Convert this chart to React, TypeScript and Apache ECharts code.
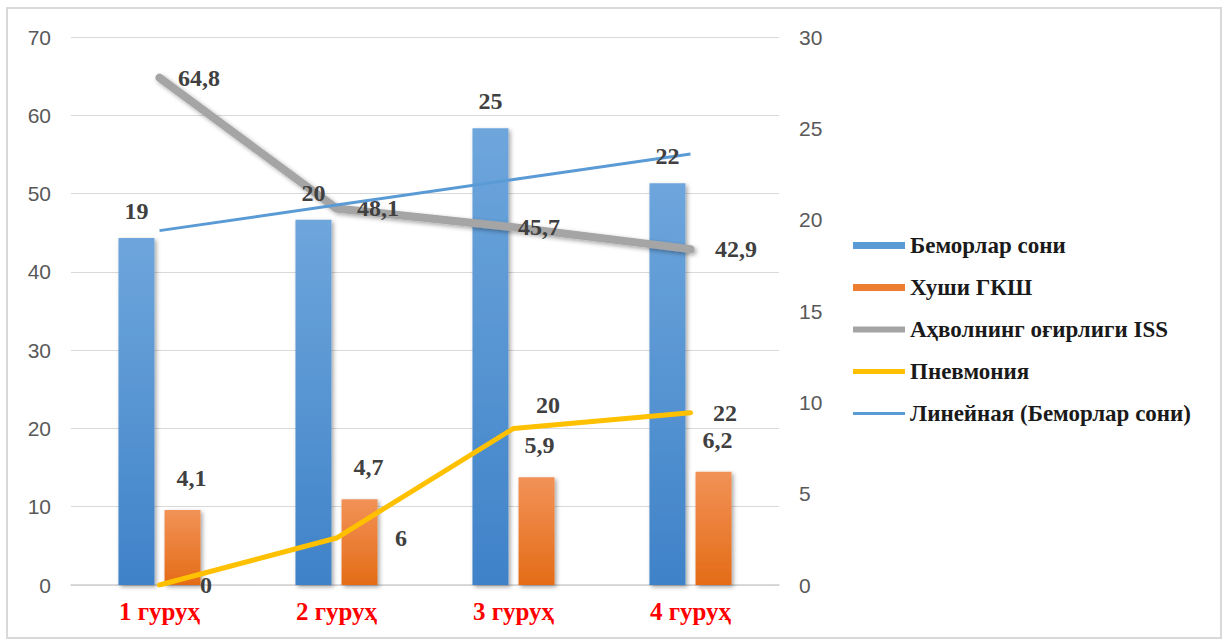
import React, { useEffect, useRef } from "react";
import * as echarts from "echarts";

const categories = ["1 гуруҳ", "2 гуруҳ", "3 гуруҳ", "4 гуруҳ"];
const patients = [19, 20, 25, 22];
const consciousness = [4.1, 4.7, 5.9, 6.2];
const severity = [64.8, 48.1, 45.7, 42.9];
const pneumonia = [0, 6, 20, 22];
const trend = [19.4, 20.8, 22.2, 23.6];
const severityLabelDist = [18, 20, 4, 24];
const pneumoniaLabelOffset = [[40, 0], [58, 0], [22, -23], [22, 0]];
const consciousnessLabelDx = [32, 32, 26, 27];

const names = [
  "Беморлар сони",
  "Хуши ГКШ",
  "Аҳволнинг оғирлиги ISS",
  "Пневмония",
  "Линейная (Беморлар сони)",
];

const SERIF = "'Liberation Serif', 'Times New Roman', serif";
const SANS = "'Liberation Sans', Arial, sans-serif";
const comma = (p: any) => String(p.value).replace(".", ",");

export default function App() {
  const ref = useRef<HTMLDivElement>(null);
  useEffect(() => {
    if (!ref.current) return;
    const chart = echarts.init(ref.current, null, { renderer: "svg" });
    const dataLabel = {
      fontFamily: SERIF,
      fontWeight: "bold" as const,
      fontSize: 24,
      color: "#404040",
    };
    const shadow = {
      shadowColor: "rgba(0,0,0,0.35)",
      shadowBlur: 4,
      shadowOffsetX: 2,
      shadowOffsetY: 2,
    };
    chart.setOption({
      animation: false,
      backgroundColor: "#ffffff",
      graphic: [
        {
          type: "rect",
          shape: { x: 7, y: 8, width: 1214, height: 630 },
          style: { fill: "none", stroke: "#d9d9d9", lineWidth: 2 },
          z: -10,
        },
      ],
      grid: { left: 71, right: 450, top: 37, bottom: 58, containLabel: false },
      legend: {
        orient: "vertical",
        left: 853,
        top: 234,
        padding: 0,
        itemWidth: 52,
        itemHeight: 8,
        itemGap: 19,
        textStyle: {
          fontFamily: SERIF,
          fontWeight: "bold",
          fontSize: 23,
          color: "#1a1a1a",
          lineHeight: 22,
        },
        data: [
          { name: names[0], icon: "path://M0,0H52V7H0Z", itemStyle: { color: "#5b9bd5" } },
          { name: names[1], icon: "path://M0,0H52V7H0Z", itemStyle: { color: "#ed7d31" } },
          { name: names[2], icon: "path://M0,0H52V6H0Z", itemStyle: { color: "#a5a5a5" } },
          { name: names[3], icon: "path://M0,0H52V5H0Z", itemStyle: { color: "#ffc000" } },
          { name: names[4], icon: "path://M0,0H52V3H0Z", itemStyle: { color: "#5b9bd5" } },
        ],
      },
      xAxis: {
        type: "category",
        data: categories,
        axisTick: { show: false },
        axisLine: { show: true, lineStyle: { color: "#d0d0d0", width: 1.5 } },
        axisLabel: {
          color: "#ff0000",
          fontFamily: SERIF,
          fontWeight: "bold",
          fontSize: 25,
          margin: 14,
        },
      },
      yAxis: [
        {
          type: "value",
          min: 0,
          max: 70,
          interval: 10,
          axisLine: { show: false },
          axisTick: { show: false },
          splitLine: { lineStyle: { color: "#d9d9d9", width: 1 } },
          axisLabel: { color: "#595959", fontFamily: SANS, fontSize: 21, margin: 20 },
        },
        {
          type: "value",
          min: 0,
          max: 30,
          interval: 5,
          axisLine: { show: false },
          axisTick: { show: false },
          splitLine: { show: false },
          axisLabel: { color: "#595959", fontFamily: SANS, fontSize: 21, margin: 20 },
        },
      ],
      series: [
        {
          name: names[0],
          type: "bar",
          yAxisIndex: 1,
          data: patients,
          barWidth: 36,
          barGap: "28%",
          z: 2,
          itemStyle: {
            color: new echarts.graphic.LinearGradient(0, 0, 0, 1, [
              { offset: 0, color: "#6ea6dc" },
              { offset: 1, color: "#3f82c8" },
            ]),
            ...shadow,
          },
        },
        {
          name: names[1],
          type: "bar",
          yAxisIndex: 1,
          data: consciousness,
          barWidth: 36,
          z: 2,
          itemStyle: {
            color: new echarts.graphic.LinearGradient(0, 0, 0, 1, [
              { offset: 0, color: "#f29257" },
              { offset: 1, color: "#e46c17" },
            ]),
            ...shadow,
          },
        },
        {
          name: names[2],
          type: "line",
          yAxisIndex: 0,
          data: severity.map((v, i) => ({
            value: v,
            label: { distance: severityLabelDist[i] },
          })),
          symbol: "circle",
          symbolSize: 1,
          showSymbol: true,
          z: 3,
          lineStyle: {
            color: "#a5a5a5",
            width: 8,
            cap: "round",
            join: "round",
            ...shadow,
          },
          itemStyle: { color: "#a5a5a5" },
          label: { show: true, position: "right", ...dataLabel, formatter: comma },
        },
        {
          name: names[3],
          type: "line",
          yAxisIndex: 0,
          data: pneumonia.map((v, i) => ({
            value: v,
            label: { offset: pneumoniaLabelOffset[i] },
          })),
          symbol: "circle",
          symbolSize: 1,
          showSymbol: true,
          z: 4,
          lineStyle: { color: "#ffc000", width: 5, cap: "round", join: "round" },
          itemStyle: { color: "#ffc000" },
          label: { show: true, position: "right", distance: 0, ...dataLabel },
        },
        {
          name: names[4],
          type: "line",
          yAxisIndex: 1,
          data: trend,
          symbol: "none",
          z: 5,
          lineStyle: { color: "#5b9bd5", width: 3 },
          itemStyle: { color: "#5b9bd5" },
          label: { show: false },
        },
        {
          name: "labels-" + names[0],
          type: "scatter",
          yAxisIndex: 1,
          data: patients,
          symbolSize: 0,
          z: 10,
          silent: true,
          itemStyle: { opacity: 1 },
          label: {
            show: true,
            position: "top",
            distance: 15,
            offset: [-23, 0],
            ...dataLabel,
          },
        },
        {
          name: "labels-" + names[1],
          type: "scatter",
          yAxisIndex: 1,
          data: consciousness.map((v, i) => ({
            value: v,
            label: { offset: [consciousnessLabelDx[i], 0] },
          })),
          symbolSize: 0,
          z: 10,
          silent: true,
          itemStyle: { opacity: 1 },
          label: {
            show: true,
            position: "top",
            distance: 20,
            ...dataLabel,
            formatter: comma,
          },
        },
      ],
    });
    return () => chart.dispose();
  }, []);
  return (
    <div
      ref={ref}
      style={{ position: "fixed", left: 0, top: 0, width: 1229, height: 643 }}
    />
  );
}
